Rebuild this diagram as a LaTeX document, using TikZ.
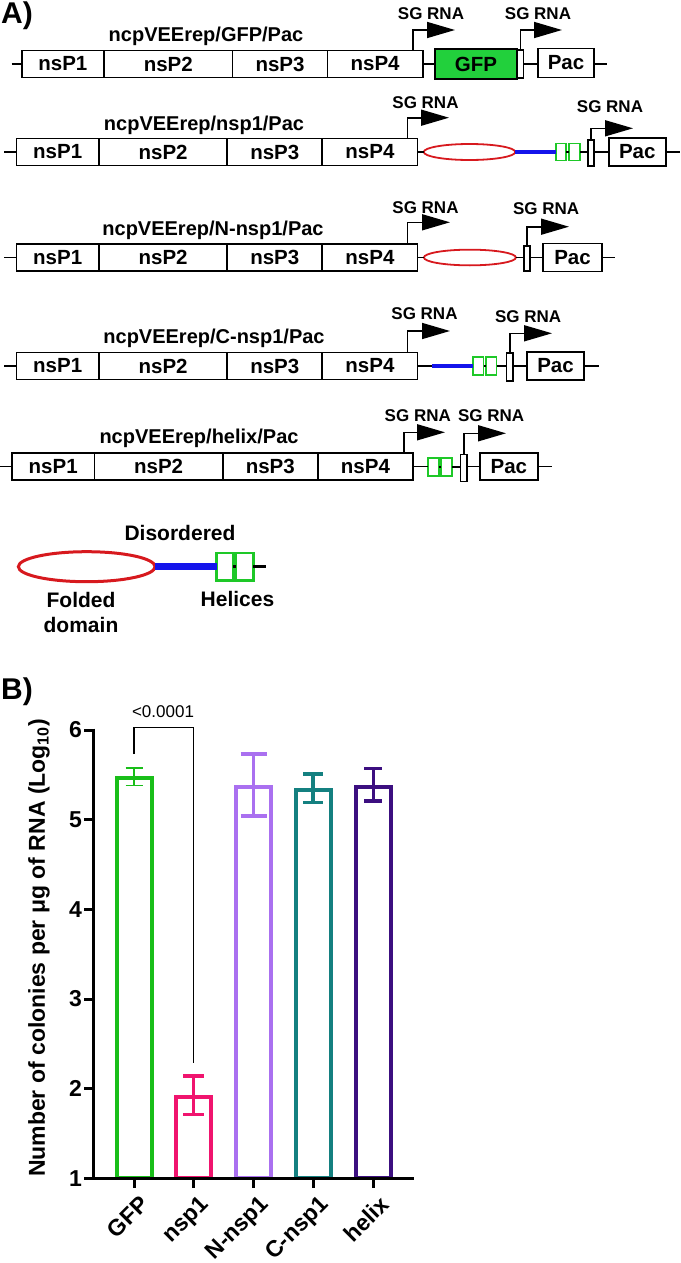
\documentclass[tikz,border=0pt]{standalone}
\usepackage{fontspec}
\setmainfont{Liberation Sans}
\usetikzlibrary{arrows.meta,shapes.geometric}
\definecolor{gfpgreen}{RGB}{34,208,60}
\definecolor{helixgreen}{RGB}{30,200,40}
\definecolor{foldred}{RGB}{215,25,30}
\definecolor{disblue}{RGB}{20,20,235}
\definecolor{cGFP}{RGB}{25,190,25}
\definecolor{cNSP}{RGB}{240,20,110}
\definecolor{cNN}{RGB}{170,112,240}
\definecolor{cCN}{RGB}{20,128,128}
\definecolor{cHX}{RGB}{60,15,128}
\tikzset{
 nbox/.style={draw, line width=1.8pt, fill=white, inner sep=0pt, outer sep=0pt, minimum height=27pt, font=\fontsize{20.5}{20.5}\selectfont\bfseries},
 thinbox/.style={draw, line width=1.5pt, fill=white, inner sep=0pt, outer sep=0pt, minimum width=6pt},
 hbox/.style={draw=helixgreen, line width=1.8pt, inner sep=0pt, outer sep=0pt},
 fold/.style={ellipse, draw=foldred, line width=1.8pt, inner sep=0pt, outer sep=0pt},
 dis/.style={draw=disblue, line width=4.5pt},
 bb/.style={line width=1.8pt},
 sg/.style={line width=1.6pt, -{Triangle[length=28pt,width=16pt]}},
 sgtext/.style={font=\fontsize{17}{17}\selectfont\bfseries, inner sep=0pt},
 ctitle/.style={font=\fontsize{20}{20}\selectfont\bfseries, inner sep=0pt, anchor=base},
 leg/.style={font=\fontsize{21}{25}\selectfont\bfseries, inner sep=0pt},
 panel/.style={font=\fontsize{30}{30}\selectfont\bfseries, inner sep=0pt, anchor=base west},
 axisline/.style={line width=3pt},
 barline/.style={line width=4pt},
 errbar/.style={line width=3.5pt},
 ticklab/.style={font=\fontsize{23}{23}\selectfont\bfseries, inner sep=0pt, anchor=east},
 xlab/.style={font=\fontsize{23}{23}\selectfont\bfseries, inner sep=0pt, rotate=45, anchor=north east},
}
\newcommand\nsprow[3]{%
 \node[nbox,minimum width=82.4pt,anchor=west] (#1a) at (#2,#3) {nsP1};
 \node[nbox,minimum width=128.4pt,anchor=west] (#1b) at (#1a.east) {nsP2};
 \node[nbox,minimum width=95pt,anchor=west] (#1c) at (#1b.east) {nsP3};
 \node[nbox,minimum width=95.2pt,anchor=west] (#1d) at (#1c.east) {nsP4};}
\begin{document}
\begin{tikzpicture}[x=1pt,y=-1pt]
\useasboundingbox (0,0) rectangle (680,1263);
\node[panel] (labA) at (1,24) {A)};
% ---------- construct 1
\coordinate (r1L) at (11.7,64);
\coordinate (r1R) at (607,64);
\draw[bb] (r1L) -- (510,64);
\draw[bb] (520,64) -- (r1R);
\nsprow{r1}{21.7}{64}
\node[nbox, fill=gfpgreen, line width=2.2pt, minimum width=82pt, minimum height=30pt] (r1gfp) at (476,64) {GFP};
\node[thinbox, minimum height=28pt] (r1sg) at (520.3,64) {};
\node[nbox, minimum width=56pt, minimum height=29pt] (r1pac) at (566,63) {Pac};
\draw[sg] ([xshift=-10pt]r1d.north east) |- (455,30);
\draw[sg] (r1sg.north) |- (562,30);
\node[sgtext] (r1t1) at (431,13.7) {SG RNA};
\node[sgtext] (r1t2) at (538,13.7) {SG RNA};
\node[ctitle] (r1n) at (206,41.7) {ncpVEErep/GFP/Pac};
% ---------- construct 2
\coordinate (r2L) at (4.3,152);
\coordinate (r2R) at (680,152);
\nsprow{r2}{16.5}{152}
\node[fold, minimum width=91.5pt, minimum height=16pt] (r2f) at (469.5,152) {};
\node[hbox, minimum width=10pt, minimum height=17pt] (r2h1) at (561,152) {};
\node[hbox, minimum width=11pt, minimum height=17pt] (r2h2) at (574.5,152) {};
\node[thinbox, minimum height=26pt] (r2sg) at (591,153) {};
\node[nbox, minimum width=56.6pt, minimum height=28pt] (r2pac) at (637.3,152) {Pac};
\draw[bb] (r2L) -- (r2a.west) (r2d.east) -- (r2f.west) (r2h1.east) -- (r2h2.west)
  (r2h2.east) -- (r2sg.west |- r2h2.east) (r2sg.east |- r2pac.west) -- (r2pac.west) (r2pac.east) -- (r2R);
\draw[dis] (r2f.east) -- (r2h1.west);
\draw[sg] ([xshift=-9.9pt]r2d.north east) |- (449,117.7);
\draw[sg] (r2sg.north) |- (633,128.3);
\node[sgtext] (r2t1) at (425.5,102.5) {SG RNA};
\node[sgtext] (r2t2) at (610,107) {SG RNA};
\node[ctitle] (r2n) at (204,130) {ncpVEErep/nsp1/Pac};
% ---------- construct 3
\coordinate (r3L) at (4.3,257.5);
\coordinate (r3R) at (615,257.5);
\nsprow{r3}{16.5}{257.5}
\node[fold, minimum width=92pt, minimum height=15.7pt] (r3f) at (469.9,257.5) {};
\node[thinbox, minimum height=25pt] (r3sg) at (527,258.5) {};
\node[nbox, minimum width=59pt, minimum height=28pt] (r3pac) at (572.5,257.5) {Pac};
\draw[bb] (r3L) -- (r3a.west) (r3d.east) -- (r3f.west) (r3f.east) -- (r3sg.west |- r3f.east)
  (r3sg.east |- r3pac.west) -- (r3pac.west) (r3pac.east) -- (r3R);
\draw[sg] ([xshift=-9.9pt]r3d.north east) |- (450,222.3);
\draw[sg] (r3sg.north) |- (569,226.7);
\node[sgtext] (r3t1) at (425.5,207.2) {SG RNA};
\node[sgtext] (r3t2) at (546.2,208.5) {SG RNA};
\node[ctitle] (r3n) at (213,235) {ncpVEErep/N-nsp1/Pac};
% ---------- construct 4
\coordinate (r4L) at (4.3,366);
\coordinate (r4R) at (598.5,366);
\coordinate (r4blue) at (432,366);
\nsprow{r4}{16.5}{366}
\node[hbox, minimum width=10.8pt, minimum height=17.6pt] (r4h1) at (478.1,366) {};
\node[hbox, minimum width=10.8pt, minimum height=17.6pt] (r4h2) at (491.1,366) {};
\node[thinbox, minimum width=6.5pt, minimum height=27.7pt] (r4sg) at (509.75,367) {};
\node[nbox, minimum width=57pt, minimum height=28pt] (r4pac) at (555.5,366) {Pac};
\draw[bb] (r4L) -- (r4a.west) (r4d.east) -- (r4blue) (r4h1.east) -- (r4h2.west)
  (r4h2.east) -- (r4sg.west |- r4h2.east) (r4sg.east |- r4pac.west) -- (r4pac.west) (r4pac.east) -- (r4R);
\draw[dis] (r4blue) -- (r4h1.west);
\draw[sg] ([xshift=-9.9pt]r4d.north east) |- (450,331);
\draw[sg] (r4sg.north) |- (552,333.3);
\node[sgtext] (r4t1) at (424.5,314) {SG RNA};
\node[sgtext] (r4t2) at (528.2,316.8) {SG RNA};
\node[ctitle] (r4n) at (214,343.3) {ncpVEErep/C-nsp1/Pac};
% ---------- construct 5
\coordinate (r5L) at (0,466.5);
\coordinate (r5R) at (551.6,466.5);
\nsprow{r5}{12}{466.5}
\node[hbox, minimum width=10.9pt, minimum height=17.4pt] (r5h1) at (433.45,467) {};
\node[hbox, minimum width=10.9pt, minimum height=17.4pt] (r5h2) at (446.45,467) {};
\node[thinbox, minimum width=6.5pt, minimum height=26.7pt] (r5sg) at (463.75,468) {};
\node[nbox, minimum width=57.7pt, minimum height=27.3pt] (r5pac) at (508.85,466.5) {Pac};
\draw[bb] (r5L) -- (r5a.west) (r5d.east) -- (r5h1.west |- r5d.east) (r5h1.east) -- (r5h2.west)
  (r5h2.east) -- (r5sg.west |- r5h2.east) (r5sg.east |- r5pac.west) -- (r5pac.west) (r5pac.east) -- (r5R);
\draw[sg] ([xshift=-8.8pt]r5d.north east) |- (445,432.3);
\draw[sg] (r5sg.north) |- (506,433.3);
\node[sgtext] (r5t1) at (417.8,415.8) {SG RNA};
\node[sgtext] (r5t2) at (491.1,415.8) {SG RNA};
\node[ctitle] (r5n) at (199,443.3) {ncpVEErep/helix/Pac};
% ---------- legend
\node[leg] (ldis) at (180,532.8) {Disordered};
\node[fold, line width=3pt, minimum width=136.7pt, minimum height=30pt] (lf) at (86.7,566.7) {};
\node[hbox, line width=2.5pt, minimum width=16.6pt, minimum height=27.4pt] (lh1) at (225,566.7) {};
\node[hbox, line width=2.5pt, minimum width=17.3pt, minimum height=27.4pt] (lh2) at (244.7,566.7) {};
\coordinate (lend) at (265.7,566.7);
\draw[dis, line width=7.5pt] (lf.east) -- (lh1.west);
\draw[line width=2.5pt] (lh1.east) -- (lh2.west) (lh2.east) -- (lend);
\node[leg] (lhel) at (237.5,598.8) {Helices};
\node[leg, align=center] (lfold) at (81,612) {Folded\\domain};
% ---------- panel B
\node[panel] (labB) at (1,699) {B)};
% bars
\draw[barline, draw=cGFP] (116.5,1178.3) rectangle (151.5,777.5);
\draw[barline, draw=cNSP] (176.1,1178.3) rectangle (211.1,1096.7);
\draw[barline, draw=cNN] (236,1178.3) rectangle (271,786.5);
\draw[barline, draw=cCN] (295.5,1178.3) rectangle (330.5,790.1);
\draw[barline, draw=cHX] (355.9,1178.3) rectangle (390.9,786.5);
% error bars
\draw[cGFP, line width=1.6pt] (134,767.7) -- (134,785.6) (125.5,767.7) -- (142.5,767.7) (125.5,785.6) -- (142.5,785.6);
\draw[errbar, cNSP] (193.6,1076.1) -- (193.6,1114.6) (183.1,1076.1) -- (204.1,1076.1) (183.1,1114.6) -- (204.1,1114.6);
\draw[errbar, cNN] (253.5,754.2) -- (253.5,816.1) (240.5,754.2) -- (266.5,754.2) (240.5,816.1) -- (266.5,816.1);
\draw[errbar, cCN] (313,773.9) -- (313,802.6) (303.3,773.9) -- (322.7,773.9) (303.3,802.6) -- (322.7,802.6);
\draw[errbar, cHX] (373.4,768.6) -- (373.4,800.8) (364.4,768.6) -- (382.4,768.6) (364.4,800.8) -- (382.4,800.8);
% significance
\draw[line width=1.2pt] (134,754) -- (134,727.3) -- (193.6,727.3) -- (193.6,1062.7);
\node[font=\fontsize{17}{17}\selectfont, inner sep=0pt] (pval) at (163,712) {<0.0001};
% axes
\draw[axisline] (93,728.5) -- (93,1178.3);
\draw[axisline] (84,1178.3) -- (414,1178.3);
\foreach \v/\yy in {1/1178.3,2/1088.6,3/999,4/909.3,5/819.6,6/730}{
  \draw[axisline] (84,\yy) -- (93,\yy);
  \node[ticklab] (yt\v) at (82,\yy) {\v};
}
\foreach \x in {134,193.6,253.5,313,373.4}
  \draw[axisline] (\x,1178.3) -- (\x,1188);
\node[xlab] (xl1) at (139,1194) {GFP};
\node[xlab] (xl2) at (198.6,1194) {nsp1};
\node[xlab] (xl3) at (258.5,1194) {N-nsp1};
\node[xlab] (xl4) at (318,1194) {C-nsp1};
\node[xlab] (xl5) at (378.4,1194) {helix};
\node[rotate=90, font=\fontsize{23}{23}\selectfont\bfseries, inner sep=0pt] (ylab) at (39,948) {Number of colonies per μg of RNA (Log\textsubscript{10})};
\end{tikzpicture}
\end{document}
